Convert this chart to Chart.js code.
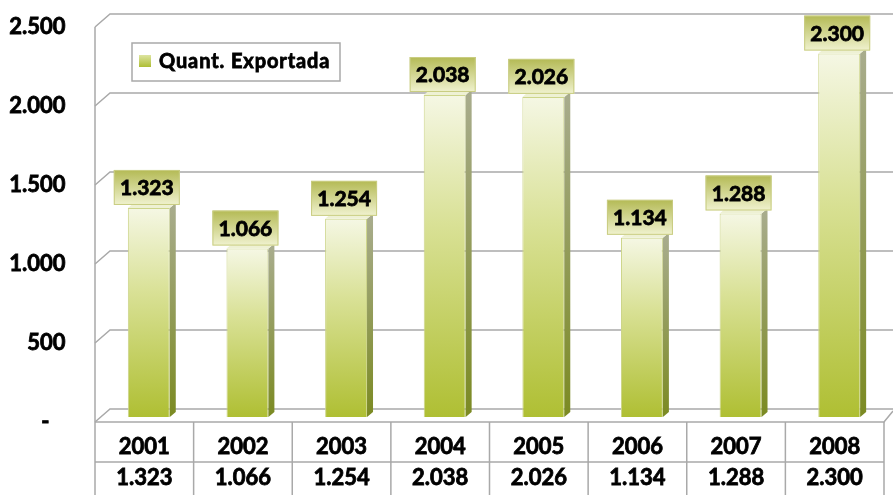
<!DOCTYPE html>
<html lang="pt">
<head>
<meta charset="UTF-8">
<title>Quant. Exportada</title>
<script src="https://cdn.jsdelivr.net/npm/chart.js"></script>
<style>
  html, body { margin: 0; padding: 0; background: #fff; }
</style>
</head>
<body>
<canvas id="grafico" width="893" height="495"></canvas>
<script>
  const anos = ['2001', '2002', '2003', '2004', '2005', '2006', '2007', '2008'];
  const quantidades = [1323, 1066, 1254, 2038, 2026, 1134, 1288, 2300];
  const ticksY = [0, 500, 1000, 1500, 2000, 2500];
  const nomeSerie = 'Quant. Exportada';

  // formato brasileiro: 1.323 ; zero vira "-"
  function fmt(v) {
    if (v === 0) return '-   ';
    return String(v).replace(/\B(?=(\d{3})+(?!\d))/g, '.');
  }

  const FONTE = 'Lato, "Open Sans", sans-serif';
  const CINZA = '#a9a9a9';
  // deslocamentos do efeito 3D em relação ao plano das barras
  const frente = { dx: -4.5, dy: 5 };
  const fundo = { dx: 10.5, dy: -8 };

  function textoGrosso(ctx, txt, x, y) {
    ctx.lineWidth = 0.8;
    ctx.strokeStyle = '#000';
    ctx.strokeText(txt, x, y);
    ctx.fillText(txt, x, y);
  }

  function gradBarra(c) {
    const chart = c.chart;
    if (!chart.chartArea || c.raw === undefined) return '#b5c43c';
    const y = chart.scales.y;
    const topo = y.getPixelForValue(c.raw), base = y.getPixelForValue(0);
    const g = chart.ctx.createLinearGradient(0, topo, 0, base);
    g.addColorStop(0, '#f5f7e4');
    g.addColorStop(0.4, '#d9e196');
    g.addColorStop(1, '#afbf33');
    return g;
  }

  const cenario3d = {
    id: 'cenario3d',
    beforeDatasetsDraw(chart) {
      const { ctx, chartArea: a, scales: { x, y } } = chart;
      const esq = a.left + frente.dx, esqFundo = a.left + fundo.dx;
      const dir = a.right + frente.dx, W = chart.width;
      ctx.save();
      ctx.strokeStyle = CINZA;
      ctx.lineWidth = 1.5;
      // linhas de grade na parede do fundo
      ticksY.forEach(v => {
        const py = y.getPixelForValue(v);
        ctx.beginPath();
        ctx.moveTo(esq, py + frente.dy);
        ctx.lineTo(esqFundo, py + fundo.dy);
        ctx.lineTo(W, py + fundo.dy);
        ctx.stroke();
      });
      const zero = y.getPixelForValue(0) + frente.dy;
      // eixo da frente e borda do piso
      ctx.beginPath();
      ctx.moveTo(esq, y.getPixelForValue(2500) + frente.dy);
      ctx.lineTo(esq, chart.height);
      ctx.moveTo(esq, zero);
      ctx.lineTo(dir, zero);
      ctx.lineTo(W, y.getPixelForValue(0) + fundo.dy + 2);
      ctx.stroke();
      // tabela de dados
      const larg = x.getPixelForValue(1) - x.getPixelForValue(0);
      const linha2 = zero + 40;
      ctx.beginPath();
      ctx.moveTo(esq, linha2);
      ctx.lineTo(dir, linha2);
      anos.forEach((_, i) => {
        const bx = x.getPixelForValue(i) + larg / 2 + frente.dx;
        ctx.moveTo(bx, zero);
        ctx.lineTo(bx, chart.height);
      });
      ctx.stroke();
      ctx.fillStyle = '#000';
      ctx.font = 'bold 22px ' + FONTE;
      ctx.textAlign = 'center';
      ctx.textBaseline = 'middle';
      anos.forEach((ano, i) => {
        const cx = x.getPixelForValue(i) + frente.dx;
        textoGrosso(ctx, ano, cx, zero + 25);
        textoGrosso(ctx, fmt(quantidades[i]), cx, zero + 56);
      });
      ctx.restore();
    },
    afterDatasetsDraw(chart) {
      const { ctx } = chart;
      const meta = chart.getDatasetMeta(0);
      const p = 6, q = 5;
      ctx.save();
      meta.data.forEach((bar, i) => {
        const { x, y, base, width } = bar.getProps(['x', 'y', 'base', 'width'], true);
        const l = x - width / 2, r = x + width / 2;
        // face lateral
        const gl = ctx.createLinearGradient(0, y, 0, base);
        gl.addColorStop(0, '#a8ac8c');
        gl.addColorStop(1, '#7b8a22');
        ctx.fillStyle = gl;
        ctx.beginPath();
        ctx.moveTo(r, y);
        ctx.lineTo(r + p, y - q);
        ctx.lineTo(r + p, base - q);
        ctx.lineTo(r, base);
        ctx.closePath();
        ctx.fill();
        // topo
        ctx.fillStyle = '#eef1d4';
        ctx.beginPath();
        ctx.moveTo(l, y);
        ctx.lineTo(l + p, y - q);
        ctx.lineTo(r + p, y - q);
        ctx.lineTo(r, y);
        ctx.closePath();
        ctx.fill();
        // rótulo com caixa
        const bw = 66, bh = 35;
        const bx = x - 2 - bw / 2, by = y - 3 - bh;
        const gr = ctx.createLinearGradient(0, by, 0, by + bh);
        gr.addColorStop(0, '#b4ba55');
        gr.addColorStop(1, '#f0f2cf');
        ctx.fillStyle = gr;
        ctx.fillRect(bx, by, bw, bh);
        ctx.strokeStyle = '#c9cd82';
        ctx.lineWidth = 1;
        ctx.strokeRect(bx + 0.5, by + 0.5, bw - 1, bh - 1);
        ctx.fillStyle = '#000';
        ctx.font = 'bold 21px ' + FONTE;
        ctx.textAlign = 'center';
        ctx.textBaseline = 'middle';
        textoGrosso(ctx, fmt(quantidades[i]), bx + bw / 2, by + bh / 2 + 1);
      });
      // legenda
      ctx.fillStyle = '#fff';
      ctx.fillRect(132, 43, 208, 38);
      ctx.strokeStyle = CINZA;
      ctx.lineWidth = 1.5;
      ctx.strokeRect(132, 43, 208, 38);
      const gm = ctx.createLinearGradient(0, 55, 0, 67);
      gm.addColorStop(0, '#dde4a0');
      gm.addColorStop(1, '#aebe34');
      ctx.fillStyle = gm;
      ctx.fillRect(139, 55, 12, 12);
      ctx.fillStyle = '#000';
      ctx.font = 'bold 20px ' + FONTE;
      ctx.letterSpacing = '0.9px';
      ctx.textAlign = 'left';
      ctx.textBaseline = 'middle';
      textoGrosso(ctx, nomeSerie, 159, 62);
      ctx.letterSpacing = '0px';
      ctx.restore();
    }
  };

  const ctx = document.getElementById('grafico').getContext('2d');
  new Chart(ctx, {
    type: 'bar',
    data: {
      labels: anos,
      datasets: [{
        label: nomeSerie,
        data: quantidades,
        backgroundColor: gradBarra,
        borderColor: '#cdd58a',
        borderWidth: 1,
        barPercentage: 0.85,
        categoryPercentage: 0.5
      }]
    },
    options: {
      responsive: false,
      animation: false,
      layout: { padding: { top: 22, right: 4.5, bottom: 78, left: 0 } },
      plugins: { legend: { display: false }, tooltip: { enabled: false } },
      scales: {
        x: { display: false },
        y: {
          min: 0,
          max: 2500,
          afterFit(s) {
            s.width = 99.5;
            s.paddingTop = 0;
            s.paddingBottom = 0;
          },
          afterBuildTicks(s) { s.ticks = ticksY.map(v => ({ value: v })); },
          grid: { display: false, drawTicks: false },
          border: { display: false },
          ticks: {
            padding: 34,
            labelOffset: 5,
            color: '#000',
            textStrokeColor: '#000',
            textStrokeWidth: 0.8,
            font: { family: FONTE, weight: 'bold', size: 22 },
            callback: v => fmt(v)
          }
        }
      }
    },
    plugins: [cenario3d]
  });
</script>
</body>
</html>
